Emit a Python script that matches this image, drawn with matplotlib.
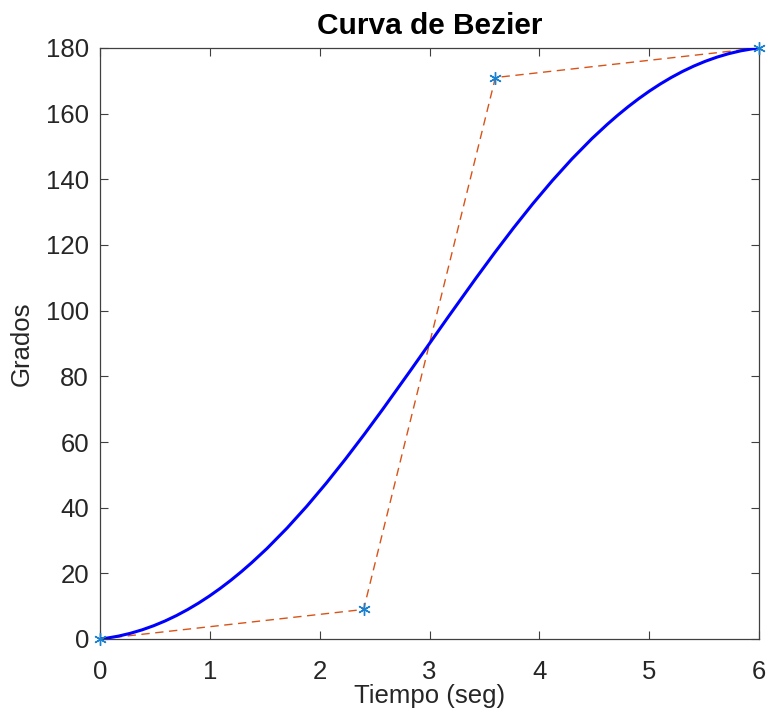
import matplotlib
matplotlib.use('Agg')
import matplotlib.pyplot as plt
from matplotlib.path import Path
from matplotlib.patches import PathPatch

# puntos de control de la curva de Bezier
ctrl_t = [0, 2.4, 3.6, 6]
ctrl_g = [0, 9, 171, 180]

xticks = [0, 1, 2, 3, 4, 5, 6]
yticks = [0, 20, 40, 60, 80, 100, 120, 140, 160, 180]


def main():
    plt.rcParams['font.family'] = ['Liberation Sans', 'DejaVu Sans']
    fig = plt.figure(figsize=(7.67, 7.09), dpi=100)
    ax = fig.add_axes([100 / 767, 1 - 639 / 709, 659 / 767, 591 / 709])

    # curva cubica trazada por matplotlib a partir de los puntos de control
    verts = list(zip(ctrl_t, ctrl_g))
    codes = [Path.MOVETO, Path.CURVE4, Path.CURVE4, Path.CURVE4]
    ax.add_patch(PathPatch(Path(verts, codes), facecolor='none',
                           edgecolor='#0000ff', lw=2.2, zorder=3))

    # poligono de control
    ax.plot(ctrl_t, ctrl_g, '--', color='#D95319', lw=1.0, dashes=(6, 4), zorder=2)
    ax.plot(ctrl_t, ctrl_g, linestyle='none', marker=(6, 2, 0), color='#1a80d0',
            ms=9, mew=1.0, zorder=4, clip_on=False)

    ax.set_xlim(0, 6)
    ax.set_ylim(0, 180)
    ax.set_xticks(xticks)
    ax.set_yticks(yticks)
    ax.tick_params(axis='both', direction='in', top=True, right=True, length=6,
                   width=0.8, color='#404040', labelsize=18.5,
                   labelcolor='#262626')
    ax.tick_params(axis='x', pad=15)
    ax.tick_params(axis='y', pad=8)
    for s in ax.spines.values():
        s.set_color('#404040')
        s.set_linewidth(0.9)

    ax.set_title('Curva de Bezier', fontsize=21.5, fontweight='bold', pad=10)
    ax.set_xlabel('Tiempo (seg)', fontsize=18.5, color='#262626', labelpad=0)
    ax.set_ylabel('Grados', fontsize=18.5, color='#262626', labelpad=9)

    plt.savefig('out.png', dpi=100)


if __name__ == "__main__":
    main()
